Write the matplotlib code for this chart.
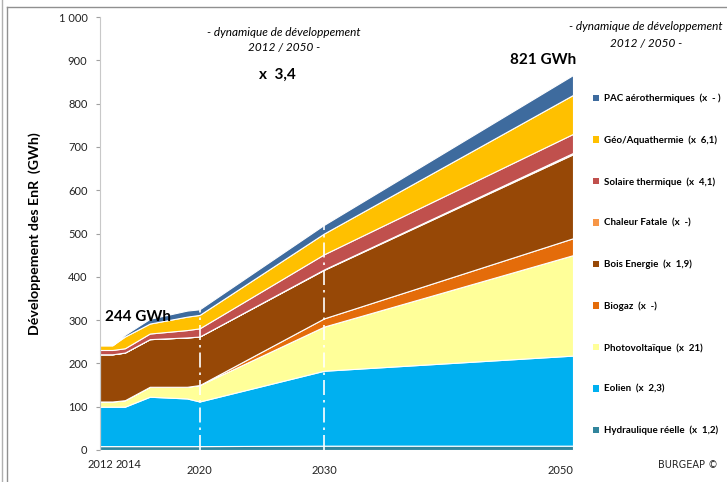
import matplotlib.pyplot as plt
from matplotlib.patches import Patch
from matplotlib.lines import Line2D
import matplotlib.transforms as mtransforms
import numpy as np

plt.rcParams['font.family'] = ['Lato', 'DejaVu Sans']

# données (GWh)
years = [2012, 2013, 2014, 2016, 2019, 2020, 2030, 2050]
hydro = [9, 9, 9, 9, 9, 9, 10, 10]
eolien = [91, 91, 91, 114, 110, 103, 173, 208]
pv = [12, 12, 15, 23, 27, 38, 102, 232]
biogaz = [0, 0, 0, 0, 0, 0, 19, 39]
bois = [109, 109, 110, 110, 114, 112, 112, 194]
chaleur = [0, 0, 0, 0, 0, 0, 1, 3]
solaire = [10, 10, 10, 13, 17, 19, 35, 44]
geo = [11, 11, 27, 23, 31, 31, 48, 90]
pac = [0, 0, 4, 11, 14, 13, 20, 46]

labels = ["Hydraulique réelle  (x  1,2)", "Eolien  (x  2,3)", "Photovoltaïque  (x  21)",
          "Biogaz  (x  -)", "Bois Energie  (x  1,9)", "Chaleur Fatale  (x  -)",
          "Solaire thermique  (x  4,1)", "Géo/Aquathermie  (x  6,1)",
          "PAC aérothermiques  (x  - )"]
colors = ["#31859C", "#00B0F0", "#FFFF99", "#E46C0A", "#974806", "#F79646",
          "#C0504D", "#FFC000", "#3E6B9E"]
series = [hydro, eolien, pv, biogaz, bois, chaleur, solaire, geo, pac]

W, H = 727, 482
fig = plt.figure(figsize=(W / 100, H / 100), dpi=100)
ax = fig.add_axes([100 / W, 1 - 450 / H, 473 / W, 433 / H])

ax.stackplot(years, *series, colors=colors, edgecolor='white', linewidth=0.8)

# lignes verticales 2020 et 2030
total = np.sum(series, axis=0)
for yr in (2020, 2030):
    i = years.index(yr)
    ax.vlines(yr, 0, total[i], colors='white', linestyles=(0, (9, 3, 1.5, 3)), lw=1.2)

ax.set_xlim(2012, 2050)
ax.set_ylim(0, 1000)
ax.set_yticks(range(0, 1001, 100))
ax.set_yticklabels([f"{v:,}".replace(",", " ") for v in range(0, 1001, 100)])
ax.set_xticks([2012, 2014, 2020, 2030, 2050])
ax.tick_params(axis='y', labelsize=8, length=3, color='#A0A0A0', pad=6, labelcolor='#222')
ax.tick_params(axis='x', labelsize=8, length=0, pad=11, labelcolor='#222')
xl = ax.get_xticklabels()
xl[0].set_transform(xl[0].get_transform() + mtransforms.ScaledTranslation(0, 6 / 100, fig.dpi_scale_trans))
xl[1].set_transform(xl[1].get_transform() + mtransforms.ScaledTranslation(4 / 100, 6 / 100, fig.dpi_scale_trans))
xl[-1].set_horizontalalignment('right')
for s in ('top', 'right', 'bottom'):
    ax.spines[s].set_visible(False)
ax.spines['left'].set_color('#C8C8C8')
ax.set_ylabel("Développement des EnR  (GWh)", fontsize=10.2, fontweight='bold', labelpad=13)

# annotations
ax.text(2012.4, 308, "244 GWh", fontsize=11, fontweight='bold', ha='left', va='center')
ax.text(2050.3, 900, "821 GWh", fontsize=11, fontweight='bold', ha='right', va='center', clip_on=False)
fig.text(284 / W, 1 - 32 / H, "- dynamique de développement", fontsize=8.5, style='italic', ha='center', va='center')
fig.text(284 / W, 1 - 47 / H, "2012 / 2050 -", fontsize=8.5, style='italic', ha='center', va='center')
fig.text(277 / W, 1 - 75 / H, "x  3,4", fontsize=11, fontweight='bold', ha='center', va='center')
fig.text(646 / W, 1 - 26 / H, "- dynamique de développement", fontsize=8.5, style='italic', ha='center', va='center')
fig.text(646 / W, 1 - 43 / H, "2012 / 2050 -", fontsize=8.5, style='italic', ha='center', va='center')
fig.text(718 / W, 1 - 465 / H, "BURGEAP ©", fontsize=7, ha='right', va='center', color='#222',
         family='DejaVu Sans')

# légende
handles = [Patch(facecolor=c, edgecolor='none') for c in colors[::-1]]
fig.legend(handles, labels[::-1], loc='upper left', bbox_to_anchor=(584 / W, 1 - 85 / H),
           frameon=False, handlelength=0.65, handleheight=0.65,
           handletextpad=0.5, labelspacing=3.3, prop={'weight': 'bold', 'size': 7})

# cadre
fig.add_artist(Line2D([7 / W, 1], [1 - 7 / H, 1 - 7 / H], color='#909090', lw=1))
fig.add_artist(Line2D([7 / W, 7 / W], [0, 1 - 7 / H], color='#909090', lw=1))
fig.add_artist(Line2D([2 / W, 2 / W], [0, 1], color='#B0B0B0', lw=1))

fig.savefig("out.png", dpi=100)
